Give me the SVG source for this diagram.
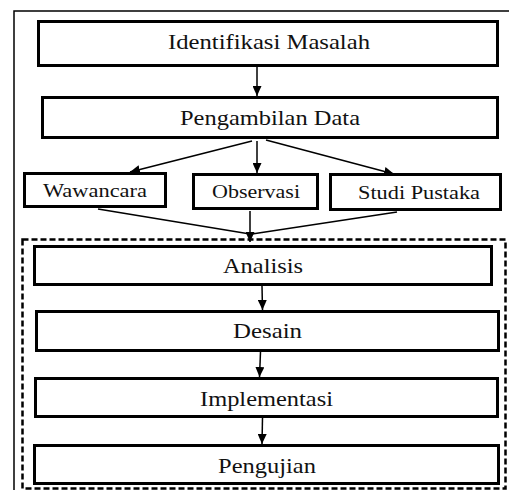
<svg xmlns="http://www.w3.org/2000/svg" width="509" height="490" viewBox="0 0 509 490">
<style>
.box{fill:#fff;stroke:#000;stroke-width:3}
.t{font-family:'Liberation Serif','DejaVu Serif',serif;font-size:22px;fill:#111;text-anchor:middle}
.s{font-family:'Liberation Serif','DejaVu Serif',serif;font-size:18.5px;fill:#111;text-anchor:middle}
.c{stroke:#000;stroke-width:1.5;fill:none}
.cm{stroke:#000;stroke-width:1.5;fill:none;marker-end:url(#ah)}
</style>
<defs>
<marker id="ah" markerUnits="userSpaceOnUse" markerWidth="10" markerHeight="9" refX="10" refY="4.5" orient="auto" viewBox="0 0 10 9">
<path d="M0,0 L10,4.5 L0,9 z" fill="#000"/>
</marker>
</defs>
<rect width="509" height="490" fill="#fff"/>
<path d="M14,490 V11 H509" fill="none" stroke="#000" stroke-width="1.5"/>
<rect id="fase" x="22.5" y="239.5" width="483" height="249" fill="none" stroke="#000" stroke-width="2.5" stroke-dasharray="6 3"/>
<g id="connectors">
<line class="cm" x1="257" y1="67" x2="257" y2="96"/>
<line class="cm" x1="252" y1="141" x2="130" y2="172"/>
<line class="cm" x1="257" y1="141" x2="257" y2="173"/>
<line class="cm" x1="266" y1="140" x2="394" y2="174"/>
<line class="c" x1="98" y1="209" x2="250" y2="234"/>
<line class="c" x1="397" y1="212" x2="252" y2="234"/>
<line class="cm" x1="250" y1="211" x2="250" y2="242"/>
<line class="cm" x1="262" y1="286" x2="262.5" y2="310"/>
<line class="cm" x1="260.5" y1="352" x2="259.5" y2="377"/>
<line class="cm" x1="262.5" y1="418" x2="262" y2="444"/>
</g>
<g id="identifikasi"><rect class="box" x="38.5" y="21.5" width="459" height="44"/><text class="t" x="269" y="49" textLength="202" lengthAdjust="spacingAndGlyphs">Identifikasi Masalah</text></g>
<g id="pengambilan"><rect class="box" x="42.5" y="97.5" width="455" height="40"/><text class="t" x="270" y="125" textLength="180" lengthAdjust="spacingAndGlyphs">Pengambilan Data</text></g>
<g id="wawancara"><rect class="box" x="24.5" y="173.5" width="141" height="33"/><text class="s" x="95" y="197" textLength="104" lengthAdjust="spacingAndGlyphs">Wawancara</text></g>
<g id="observasi"><rect class="box" x="193.5" y="174.5" width="124" height="34"/><text class="s" x="256" y="198" textLength="88" lengthAdjust="spacingAndGlyphs">Observasi</text></g>
<g id="studi"><rect class="box" x="330.5" y="174.5" width="170" height="35"/><text class="s" x="419" y="199" textLength="122" lengthAdjust="spacingAndGlyphs">Studi Pustaka</text></g>
<g id="analisis"><rect class="box" x="34.5" y="246.5" width="457" height="38"/><text class="t" x="263" y="273" textLength="80" lengthAdjust="spacingAndGlyphs">Analisis</text></g>
<g id="desain"><rect class="box" x="36.5" y="311.5" width="462" height="39"/><text class="t" x="267.5" y="338" textLength="69" lengthAdjust="spacingAndGlyphs">Desain</text></g>
<g id="implementasi"><rect class="box" x="35.5" y="378.5" width="462" height="38"/><text class="t" x="266.5" y="406" textLength="133" lengthAdjust="spacingAndGlyphs">Implementasi</text></g>
<g id="pengujian"><rect class="box" x="34.5" y="445.5" width="464" height="38"/><text class="t" x="267" y="473" textLength="98" lengthAdjust="spacingAndGlyphs">Pengujian</text></g>
</svg>
